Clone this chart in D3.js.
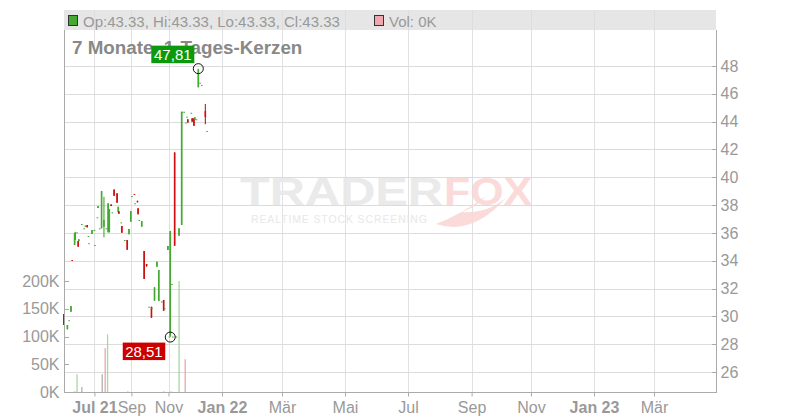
<!DOCTYPE html>
<html><head><meta charset="utf-8">
<script src="https://cdn.jsdelivr.net/npm/d3@7"></script>
<style>body{margin:0;background:#fff}svg{display:block}text{font-family:"Liberation Sans",Arial,sans-serif}</style>
</head><body><svg id="c" width="800" height="420"></svg>
<script>
// ---- data ----
const dates = ["2021-05-11","2021-05-17","2021-05-20","2021-05-23","2021-05-25","2021-05-29","2021-05-30","2021-06-02","2021-06-04","2021-06-05",
"2021-06-10","2021-06-14","2021-06-16","2021-06-19","2021-06-21","2021-06-22","2021-06-27","2021-07-01","2021-07-02","2021-07-06",
"2021-07-07","2021-07-10","2021-07-13","2021-07-17","2021-07-21","2021-07-24","2021-07-26","2021-07-29","2021-07-31","2021-08-03",
"2021-08-08","2021-08-10","2021-08-11","2021-08-15","2021-08-16","2021-08-21","2021-08-25","2021-08-28","2021-08-31","2021-09-02",
"2021-09-06","2021-09-07","2021-09-11","2021-09-12","2021-09-14","2021-09-18","2021-09-22","2021-09-26","2021-09-30","2021-10-04",
"2021-10-05","2021-10-09","2021-10-13","2021-10-16","2021-10-21","2021-10-24","2021-10-26","2021-10-31","2021-11-02","2021-11-03",
"2021-11-05","2021-11-06","2021-11-08","2021-11-10","2021-11-13","2021-11-16","2021-11-17","2021-11-19","2021-11-21","2021-11-22",
"2021-11-23","2021-11-27","2021-11-28","2021-11-30","2021-12-01","2021-12-03","2021-12-05","2021-12-07","2021-12-09","2021-12-13",
"2021-12-15"];
const open  = [30.17,29.07,29.72,30.33,34.05,35.13,35.49,36.04,35.42,35.40, 36.64,36.33,36.45,36.57,35.78,35.26,35.92,36.21,35.13,37.12,
37.79,36.33,36.33,36.45,36.33,36.04,36.04,38.05,37.48,39.08, 38.85,37.48,37.55,36.76,36.50,35.49,35.49,35.90,36.81,38.65,
38.80,38.13,38.31,37.77,36.93,36.45,34.70,33.76,30.69,30.69, 30.62,31.13,33.57,31.10,31.07,31.18,30.58,34.77,28.55,28.60,
32.33,28.55,41.79,28.55,35.80,36.57,44.71,44.71,43.93,44.36, 44.17,44.64,44.24,44.24,44.12,44.17,46.47,46.80,46.63,44.76,
43.33];
const high  = [30.17,29.38,29.72,30.74,34.05,35.97,36.04,36.04,35.42,35.54, 36.64,36.33,36.52,36.57,35.78,35.26,36.21,36.21,35.13,37.12,
37.93,36.33,39.01,38.60,36.33,38.13,37.71,38.05,37.48,39.16, 38.85,37.88,37.55,36.76,36.50,35.49,35.49,36.28,37.57,38.65,
38.80,38.13,38.31,37.77,36.93,36.85,34.70,33.76,30.69,30.69, 30.62,32.09,33.93,33.33,31.07,31.18,30.58,35.06,28.55,36.14,
32.33,28.55,41.79,28.55,36.33,44.71,44.71,44.71,43.93,44.36, 44.17,44.64,44.24,44.24,44.31,44.17,47.81,46.80,46.63,45.27,
43.33];
const low   = [29.38,29.07,29.72,30.33,34.01,35.13,35.49,36.04,35.01,35.40, 36.64,36.33,36.45,36.40,35.78,35.26,35.92,36.21,35.13,37.12,
37.79,36.33,36.33,35.68,36.33,36.04,36.04,37.93,37.48,38.67, 38.17,37.48,37.38,36.76,36.01,35.49,34.79,35.90,36.81,38.65,
38.77,38.13,38.20,37.34,36.93,36.45,32.69,33.57,30.69,29.90, 30.62,31.13,33.57,31.10,31.07,30.41,30.58,34.77,28.55,28.51,
32.33,28.55,35.08,28.55,35.80,36.57,44.71,44.71,43.93,44.36, 43.93,44.64,44.00,43.71,44.12,44.17,46.47,46.80,46.63,43.81,
43.33];
const close = [29.38,29.38,29.72,30.74,34.01,35.97,36.04,36.04,35.01,35.54, 36.64,36.33,36.52,36.40,35.78,35.26,36.21,36.21,35.13,37.12,
37.93,36.33,39.01,36.93,36.33,38.13,37.71,37.93,37.48,38.67, 38.17,37.88,37.38,36.76,36.01,35.49,34.79,36.28,37.57,38.65,
38.77,38.13,38.20,37.34,36.93,36.85,32.69,33.62,30.69,29.90, 30.62,32.09,33.93,33.33,31.07,30.41,30.58,35.06,28.55,36.14,
32.33,28.55,35.08,28.55,36.33,44.71,44.71,44.71,43.93,44.36, 43.93,44.64,44.00,43.71,44.31,44.17,47.76,46.80,46.63,44.33,
43.33];

const volDates  = ["2021-05-29","2021-06-02","2021-06-10","2021-07-14","2021-07-19","2021-07-23","2021-08-26","2021-10-24","2021-11-04","2021-11-13","2021-11-20"];
const volValues = [1500, 32000, 9000, 32000, 79000, 104000, 1200, 1200, 1200, 200000, 59000];
const volDir    = ["up","up","flat","flat","down","up","down","down","up","up","down"];

const priceTicks = [26,28,30,32,34,36,38,40,42,44,46,48];
const volTicks = [0,50000,100000,150000,200000];
const volTickLabels = ["0K","50K","100K","150K","200K"];
const xTickDates = ["2021-07-01","2021-09-01","2021-11-01","2022-01-01","2022-03-01","2022-05-01","2022-07-01","2022-09-01","2022-11-01","2023-01-01","2023-03-01"];
const xTickLabels = ["Jul 21","Sep","Nov","Jan 22","Mär","Mai","Jul","Sep","Nov","Jan 23","Mär"];
const xTickBold = [true,false,false,true,false,false,false,false,false,true,false];

const lastO = 43.33, lastH = 43.33, lastL = 43.33, lastC = 43.33, lastVol = "0K";

// ---- layout ----
const L = 64, R = 716, T = 30, B = 392;
const green = "#44a832", red = "#cc1010";
const parse = d3.timeParse("%Y-%m-%d");
const svg = d3.select("#c");

// piecewise time axis (compressed history, calendar future)
const x = d3.scaleTime()
  .domain(["2021-05-10","2021-07-01","2021-09-01","2021-11-01","2022-01-01","2022-03-01","2022-05-01","2022-07-01","2022-09-01","2022-11-01","2023-01-01","2023-03-01","2023-05-02"].map(parse))
  .range([63.2,94.4,131.4,168.5,222,282,345,408,471.6,531,594,654,716]);
const y = d3.scaleLinear().domain([26,48]).range([372,66]);
const yv = d3.scaleLinear().domain([0,200000]).range([B,281]);

// header bar
svg.append("rect").attr("x",L).attr("y",10).attr("width",R-L).attr("height",20).attr("fill","#e6e6e6");

// grid
const g = svg.append("g");
g.selectAll(".hg").data(priceTicks).join("line")
  .attr("x1",L).attr("x2",R).attr("y1",d=>Math.round(y(d))+0.5).attr("y2",d=>Math.round(y(d))+0.5)
  .attr("stroke","#dcdcdc");
g.selectAll(".vg").data(xTickDates.map(parse)).join("line")
  .attr("x1",d=>Math.round(x(d))+0.5).attr("x2",d=>Math.round(x(d))+0.5).attr("y1",10).attr("y2",B)
  .attr("stroke","#dcdcdc").attr("stroke-opacity",0.85);

// watermark
const wm = svg.append("g").attr("opacity",0.9);
wm.append("text").attr("x",240).attr("y",205).attr("font-size",38).attr("font-weight","bold")
  .attr("textLength",203).attr("lengthAdjust","spacingAndGlyphs").attr("fill","#e8e8e8").text("TRADER");
wm.append("text").attr("x",444).attr("y",205).attr("font-size",38).attr("font-weight","bold")
  .attr("textLength",88).attr("lengthAdjust","spacingAndGlyphs").attr("fill","#fbd6d6").text("FOX");
wm.append("text").attr("x",251).attr("y",223).attr("font-size",10.5)
  .attr("textLength",176).attr("lengthAdjust","spacing").attr("fill","#e6e6e6").text("REALTIME STOCK SCREENING");
wm.append("path").attr("d","M436 224 Q472 236 506 198 Q486 214 462 212 Q478 206 486 196 Q462 214 436 224 Z").attr("fill","#fbd6d6");

// volume bars
const vcol = {up:"#a9d8a0", down:"#eaa5ad", flat:"#b0b0b0"};
svg.append("g").selectAll("rect").data(volDates.map((d,i)=>({d:parse(d),v:volValues[i],k:volDir[i]}))).join("rect")
  .attr("x",d=>x(d.d)-0.6).attr("width",1.3)
  .attr("y",d=>yv(d.v)).attr("height",d=>Math.max(1,B-yv(d.v)))
  .attr("fill",d=>vcol[d.k]);

// candles
const candles = dates.map((d,i)=>({d:parse(d),o:open[i],h:high[i],l:low[i],c:close[i]}));
const cg = svg.append("g");
candles.forEach(k=>{
  const col = k.c>=k.o ? green : red;
  const cx = x(k.d);
  cg.append("line").attr("x1",cx).attr("x2",cx).attr("y1",y(k.h)).attr("y2",y(k.l)).attr("stroke",col).attr("stroke-width",1.1);
  const top = y(Math.max(k.o,k.c)), bot = y(Math.min(k.o,k.c));
  cg.append("rect").attr("x",cx-0.8).attr("width",1.6).attr("y",top).attr("height",Math.max(1,bot-top)).attr("fill",col);
});

// axes lines
svg.append("line").attr("x1",L+0.5).attr("x2",L+0.5).attr("y1",T).attr("y2",B).attr("stroke","#aaa");
svg.append("line").attr("x1",R+0.5).attr("x2",R+0.5).attr("y1",T).attr("y2",B).attr("stroke","#aaa");
svg.append("line").attr("x1",L).attr("x2",R+1).attr("y1",B+0.5).attr("y2",B+0.5).attr("stroke","#aaa");

// right price axis
const ya = svg.append("g").attr("transform",`translate(${R+0.5},0)`)
  .call(d3.axisRight(y).tickValues(priceTicks).tickSize(0).tickPadding(4).tickFormat(d3.format("d")));
ya.select(".domain").remove();
ya.selectAll("text").attr("fill","#999").attr("font-size",16).attr("font-family","'Liberation Sans',Arial,sans-serif");
svg.append("g").selectAll("line").data(priceTicks).join("line")
  .attr("x1",R-4).attr("x2",R).attr("y1",d=>Math.round(y(d))+0.5).attr("y2",d=>Math.round(y(d))+0.5).attr("stroke","#aaa");

// left volume axis
const va = svg.append("g").attr("transform",`translate(${L+0.5},0)`)
  .call(d3.axisLeft(yv).tickValues(volTicks).tickSize(0).tickPadding(5).tickFormat((d,i)=>volTickLabels[i]));
va.select(".domain").remove();
va.selectAll("text").attr("fill","#999").attr("font-size",16).attr("font-family","'Liberation Sans',Arial,sans-serif");
svg.append("g").selectAll("line").data(volTicks).join("line")
  .attr("x1",L).attr("x2",L+5).attr("y1",d=>Math.round(yv(d))+0.5).attr("y2",d=>Math.round(yv(d))+0.5).attr("stroke","#aaa");

// bottom time axis
const xa = svg.append("g").attr("transform",`translate(0,${B+0.5})`)
  .call(d3.axisBottom(x).tickValues(xTickDates.map(parse)).tickSize(4).tickPadding(5).tickFormat((d,i)=>xTickLabels[i]));
xa.select(".domain").remove();
xa.selectAll("line").attr("stroke","#aaa");
xa.selectAll("text").attr("fill","#999").attr("font-size",16).attr("font-family","'Liberation Sans',Arial,sans-serif")
  .attr("font-weight",(d,i)=>xTickBold[i]?"bold":"normal");

// header texts
svg.append("rect").attr("x",68.5).attr("y",15.5).attr("width",9).attr("height",10).attr("fill",green).attr("stroke","#333");
svg.append("text").attr("x",83).attr("y",27).attr("font-size",15).attr("fill","#999")
  .text(`Op:${lastO.toFixed(2)}, Hi:${lastH.toFixed(2)}, Lo:${lastL.toFixed(2)}, Cl:${lastC.toFixed(2)}`);
svg.append("rect").attr("x",374.5).attr("y",15.5).attr("width",9).attr("height",10).attr("fill","#f0a8b0").attr("stroke","#333");
svg.append("text").attr("x",389).attr("y",27).attr("font-size",15).attr("fill","#999").text(`Vol: ${lastVol}`);

// title
svg.append("text").attr("x",72).attr("y",54).attr("font-size",18.8).attr("font-weight","bold").attr("fill","#888")
  .text("7 Monate, 1-Tages-Kerzen");

// extreme markers
const iMax = d3.maxIndex(high), iMin = d3.minIndex(low);
const fmt = v => v.toFixed(2).replace(".",",");
const hx = x(parse(dates[iMax])), hy = y(high[iMax]);
const lx = x(parse(dates[iMin])), ly = y(low[iMin]);
svg.append("rect").attr("x",hx-47).attr("y",hy-23).attr("width",43).attr("height",17.5).attr("fill","#0c990c");
svg.append("text").attr("x",hx-25.5).attr("y",hy-9).attr("text-anchor","middle").attr("font-size",15).attr("fill","#fff").text(fmt(high[iMax]));
svg.append("circle").attr("cx",hx).attr("cy",hy).attr("r",5).attr("fill","none").attr("stroke","#111");
svg.append("rect").attr("x",lx-47.5).attr("y",ly+5.5).attr("width",42.5).attr("height",17.5).attr("fill","#cc0000");
svg.append("text").attr("x",lx-26.3).attr("y",ly+19.5).attr("text-anchor","middle").attr("font-size",15).attr("fill","#fff").text(fmt(low[iMin]));
svg.append("circle").attr("cx",lx).attr("cy",ly).attr("r",5).attr("fill","none").attr("stroke","#111");
</script></body></html>
